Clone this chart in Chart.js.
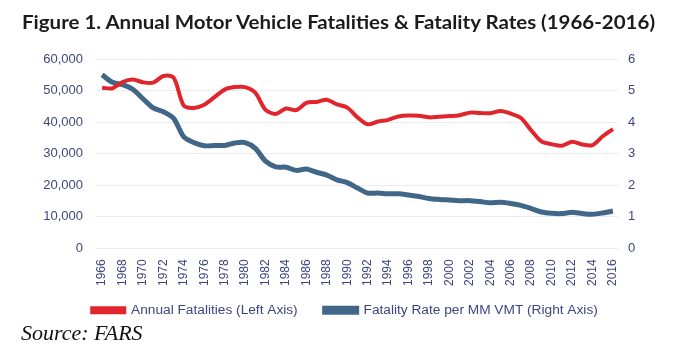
<!DOCTYPE html>
<html>
<head>
<meta charset="utf-8">
<script src="https://cdn.jsdelivr.net/npm/chart.js@4.4.0/dist/chart.umd.min.js"></script>
<style>
  html, body { margin: 0; padding: 0; background: #fff; }
  #wrap { position: relative; width: 678px; height: 364px; overflow: hidden; }
  #chartBox { position: absolute; left: 0; top: 0; width: 678px; height: 364px; }
  #title {
    position: absolute; left: 22px; top: 11px; white-space: nowrap;
    font: bold 18px Lato, "Liberation Sans", sans-serif; color: #1b1b1b;
    transform-origin: left top;
  }
  #source {
    position: absolute; left: 21px; top: 320px; white-space: nowrap;
    font: italic 22px "Liberation Serif", "DejaVu Serif", serif; color: #111;
  }
</style>
</head>
<body>
<div id="wrap">
  <div id="chartBox"><canvas id="fatalChart" width="678" height="364"></canvas></div>
  <div id="title">Figure 1. Annual Motor Vehicle Fatalities &amp; Fatality Rates (1966-2016)</div>
  <div id="source">Source: FARS</div>
</div>
<script>
// years 1966..2016
const years = [
  1966, 1967, 1968, 1969, 1970, 1971, 1972, 1973, 1974, 1975,
  1976, 1977, 1978, 1979, 1980, 1981, 1982, 1983, 1984, 1985,
  1986, 1987, 1988, 1989, 1990, 1991, 1992, 1993, 1994, 1995,
  1996, 1997, 1998, 1999, 2000, 2001, 2002, 2003, 2004, 2005,
  2006, 2007, 2008, 2009, 2010, 2011, 2012, 2013, 2014, 2015, 2016
];

// annual fatalities (left axis)
const fatalities = [
  50900, 50700, 52700, 53500, 52600, 52500, 54600, 54100, 45200, 44500,
  45500, 47900, 50300, 51100, 51100, 49300, 43900, 42600, 44300, 43800,
  46100, 46400, 47100, 45600, 44600, 41500, 39300, 40200, 40700, 41800,
  42100, 42000, 41500, 41700, 41900, 42200, 43000, 42900, 42800, 43500,
  42700, 41300, 37400, 33900, 33000, 32500, 33800, 32900, 32700, 35500, 37800
];

// fatality rate per 100 million VMT (right axis)
const rates = [
  5.50, 5.26, 5.19, 5.04, 4.74, 4.45, 4.33, 4.12, 3.53, 3.35,
  3.25, 3.26, 3.26, 3.34, 3.35, 3.17, 2.76, 2.58, 2.57, 2.47,
  2.51, 2.41, 2.32, 2.17, 2.08, 1.91, 1.75, 1.75, 1.73, 1.73,
  1.69, 1.64, 1.58, 1.55, 1.53, 1.51, 1.51, 1.48, 1.44, 1.46,
  1.42, 1.36, 1.26, 1.15, 1.11, 1.10, 1.14, 1.10, 1.08, 1.12, 1.18
];

const seriesNames = ['Annual Fatalities (Left Axis)', 'Fatality Rate per MM VMT (Right Axis)'];
const leftTicks = [0, 10000, 20000, 30000, 40000, 50000, 60000];
const rightTicks = [0, 1, 2, 3, 4, 5, 6];

const tickColor = '#3d4680';
const gridColor = '#e9edf3';

// squeeze the title to the width it has in the figure
const titleEl = document.getElementById('title');
const tw = titleEl.getBoundingClientRect().width;
titleEl.style.transform = 'scaleX(' + (633 / tw) + ')';

// legend padding is wide (for the gap between items), so pull the box up a bit
const legendNudge = {
    id: 'legendNudge',
    afterLayout(chart) {
        if (chart.legend) {
            chart.legend.top -= 17;
            chart.legend.bottom -= 17;
        }
    }
};

function initChart() {
    const ctx = document.getElementById('fatalChart').getContext('2d');
    new Chart(ctx, {
        type: 'line',
        data: {
            labels: years.map(String),
            datasets: [{
                label: seriesNames[0],
                data: fatalities,
                yAxisID: 'yLeft',
                borderColor: '#e0262c',
                backgroundColor: '#e0262c',
                borderWidth: 4,
                pointRadius: 0,
                tension: 0.3,
                fill: false
            }, {
                label: seriesNames[1],
                data: rates,
                yAxisID: 'yRight',
                borderColor: '#406688',
                backgroundColor: '#406688',
                borderWidth: 5,
                pointRadius: 0,
                tension: 0.3,
                fill: false
            }]
        },
        options: {
            responsive: false,
            animation: false,
            devicePixelRatio: 1,
            layout: { padding: { top: 59, bottom: 20, left: 12, right: 0 } },
            plugins: {
                tooltip: { enabled: false },
                legend: {
                    position: 'bottom',
                    labels: {
                        boxWidth: 32,
                        boxHeight: 4,
                        padding: 27,
                        color: tickColor,
                        font: { family: '"Liberation Sans", Arial, sans-serif', size: 13.7 }
                    }
                }
            },
            scales: {
                x: {
                    offset: true,
                    grid: { display: false, drawTicks: false },
                    border: { display: false },
                    ticks: {
                        autoSkip: false,
                        maxRotation: 90,
                        minRotation: 90,
                        padding: 11,
                        color: tickColor,
                        font: { family: '"Liberation Sans", Arial, sans-serif', size: 12 },
                        callback: (v, i) => (years[i] % 2 === 0 ? String(years[i]) : '')
                    },
                    afterFit: (s) => { s.height = 45; }
                },
                yLeft: {
                    position: 'left',
                    min: leftTicks[0],
                    max: leftTicks[leftTicks.length - 1],
                    afterBuildTicks: (s) => { s.ticks = leftTicks.map(v => ({ value: v })); },
                    grid: { color: gridColor, lineWidth: 1, drawTicks: false },
                    border: { display: false },
                    ticks: {
                        padding: 14,
                        color: tickColor,
                        font: { family: '"Liberation Sans", Arial, sans-serif', size: 13 },
                        callback: (v) => v.toLocaleString('en-US')
                    },
                    afterFit: (s) => { s.width = 85; }
                },
                yRight: {
                    position: 'right',
                    min: rightTicks[0],
                    max: rightTicks[rightTicks.length - 1],
                    afterBuildTicks: (s) => { s.ticks = rightTicks.map(v => ({ value: v })); },
                    grid: { display: false, drawTicks: false },
                    border: { display: false },
                    ticks: {
                        padding: 10,
                        color: tickColor,
                        font: { family: '"Liberation Sans", Arial, sans-serif', size: 13 }
                    },
                    afterFit: (s) => { s.width = 60; }
                }
            }
        },
        plugins: [legendNudge]
    });
}

initChart();
</script>
</body>
</html>
